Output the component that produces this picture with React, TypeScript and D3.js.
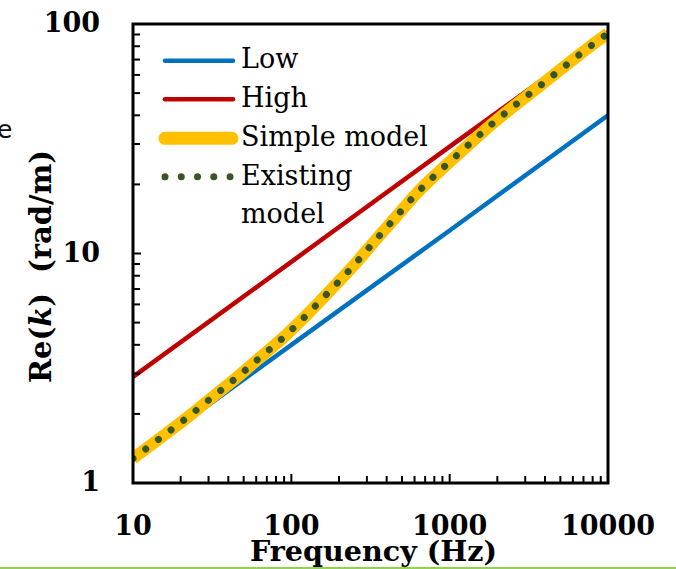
import React from 'react';
import * as d3 from 'd3';

// ---- data ----
const frequencyTickLabels = [10, 100, 1000, 10000];
const valueTickLabels = [1, 10, 100];

const lineFrequencies = [10, 100, 1000, 10000];
const lowValues = [1.26, 4.0, 12.6, 40];
const highValues = [2.9, 9.2, 29.2, 92];

const modelFrequencies = [10, 14.6, 21.3, 30.6, 44.3, 63.4, 91.2, 128, 177, 246, 334, 456, 619, 878, 1250, 1770, 2550, 3720, 5380, 7810, 10000];
const simpleModelValues = [1.28, 1.555, 1.895, 2.32, 2.85, 3.52, 4.37, 5.49, 6.93, 8.82, 11.26, 14.38, 18.3, 23.1, 28.8, 35.7, 43.9, 53.8, 65.8, 80.4, 91];
const existingModelValues = [1.28, 1.555, 1.895, 2.32, 2.85, 3.52, 4.37, 5.49, 6.93, 8.82, 11.26, 14.38, 18.3, 23.1, 28.8, 35.7, 43.9, 53.8, 65.8, 80.4, 91];

const seriesNames = ['Low', 'High', 'Simple model', 'Existing'];

const W = 676;
const H = 569;
const plot = { left: 133, right: 608, top: 24, bottom: 483 };
const FONT = '"DejaVu Serif", serif';

export default function App() {
  const x = d3.scaleLog().domain([10, 10000]).range([plot.left, plot.right]);
  const y = d3.scaleLog().domain([1, 100]).range([plot.bottom, plot.top]);

  const line = d3
    .line<[number, number]>()
    .x((d) => x(d[0]))
    .y((d) => y(d[1]))
    .curve(d3.curveMonotoneX);

  const lowPath = line(lineFrequencies.map((f, i) => [f, lowValues[i]]))!;
  const highPath = line(lineFrequencies.map((f, i) => [f, highValues[i]]))!;
  const simplePath = line(modelFrequencies.map((f, i) => [f, simpleModelValues[i]]))!;
  const existingPath = line(modelFrequencies.map((f, i) => [f, existingModelValues[i]]))!;

  const yTicks = y.ticks();
  const xTicks = x.ticks();
  const isMajor = (v: number) => Math.abs(Math.log10(v) - Math.round(Math.log10(v))) < 1e-9;

  const legendY = [60.7, 99.3, 138.3, 176.7];
  const legendTextY = [68, 106.5, 146, 185];

  return (
    <svg
      width={W}
      height={H}
      style={{ position: 'absolute', left: 0, top: 0, background: '#fff' }}
      fontFamily={FONT}
    >
      <rect x={0} y={0} width={W} height={H} fill="#fff" />
      <defs>
        <clipPath id="plotClip">
          <rect x={plot.left} y={plot.top} width={plot.right - plot.left} height={plot.bottom - plot.top} />
        </clipPath>
      </defs>

      {/* stray cut-off text at left edge */}
      <text x={-3} y={138} fontFamily='"DejaVu Sans", sans-serif' fontSize={25} fill="#111">e</text>

      {/* series */}
      <g clipPath="url(#plotClip)" fill="none">
        <path d={lowPath} stroke="#0070C0" strokeWidth={4.5} />
        <path d={highPath} stroke="#C00000" strokeWidth={4.5} />
        <path d={simplePath} stroke="#FFC000" strokeWidth={12} />
        <path
          d={existingPath}
          stroke="#375623"
          strokeWidth={7}
          strokeLinecap="round"
          strokeDasharray="0.01 15.85"
        />
      </g>

      {/* ticks */}
      <g stroke="#000" strokeWidth={2}>
        {yTicks.map((t, i) => (
          <line key={'yt' + i} x1={plot.left} x2={plot.left + (isMajor(t) ? 8 : 7)} y1={y(t)} y2={y(t)} />
        ))}
        {xTicks.map((t, i) => (
          <line key={'xt' + i} x1={x(t)} x2={x(t)} y1={plot.bottom} y2={plot.bottom - (isMajor(t) ? 9 : 7)} />
        ))}
      </g>

      {/* frame */}
      <rect
        x={plot.left}
        y={plot.top}
        width={plot.right - plot.left}
        height={plot.bottom - plot.top}
        fill="none"
        stroke="#000"
        strokeWidth={3}
      />

      {/* tick labels */}
      {valueTickLabels.map((v) => (
        <text key={'yl' + v} x={100} y={y(v) + 8} textAnchor="end" fontSize={27} fontWeight="bold" fill="#000">
          {v}
        </text>
      ))}
      {frequencyTickLabels.map((v) => (
        <text key={'xl' + v} x={x(v)} y={535} textAnchor="middle" fontSize={27} fontWeight="bold" fill="#000">
          {v}
        </text>
      ))}

      {/* axis titles */}
      <text
        x={250}
        y={561}
        fontSize={28}
        fontWeight="bold"
        fill="#000"
        textLength={247}
        lengthAdjust="spacingAndGlyphs"
      >
        Frequency (Hz)
      </text>
      <text
        transform={`translate(51, 383) rotate(-90)`}
        fontSize={29}
        fontWeight="bold"
        fill="#000"
        textLength={233}
        lengthAdjust="spacingAndGlyphs"
        style={{ whiteSpace: 'pre' }}
      >
        Re(<tspan fontStyle="italic">k</tspan>)  (rad/m)
      </text>

      {/* legend */}
      <g>
        <line x1={165} x2={233} y1={legendY[0]} y2={legendY[0]} stroke="#0070C0" strokeWidth={4.5} strokeLinecap="round" />
        <line x1={165} x2={233} y1={legendY[1]} y2={legendY[1]} stroke="#C00000" strokeWidth={4.5} strokeLinecap="round" />
        <line x1={165} x2={232} y1={legendY[2]} y2={legendY[2]} stroke="#FFC000" strokeWidth={13} strokeLinecap="round" />
        <line
          x1={165}
          x2={231}
          y1={legendY[3]}
          y2={legendY[3]}
          stroke="#375623"
          strokeWidth={7}
          strokeLinecap="round"
          strokeDasharray="0.01 16.25"
        />
        {seriesNames.map((s, i) => (
          <text key={s} x={241} y={legendTextY[i]} fontSize={27} fill="#000">
            {s}
          </text>
        ))}
        <text x={241} y={223} fontSize={27} fill="#000">model</text>
      </g>

      {/* green rule at bottom */}
      <line x1={0} x2={W} y1={568} y2={568} stroke="#92D050" strokeWidth={2} />
    </svg>
  );
}
